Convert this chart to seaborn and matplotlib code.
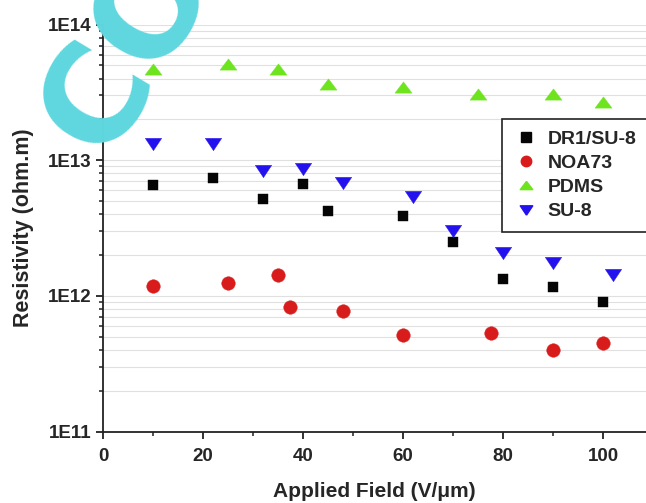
import numpy as np
import pandas as pd
import matplotlib
matplotlib.use("Agg")
import matplotlib.pyplot as plt
import seaborn as sns
from matplotlib.ticker import LogLocator, FixedLocator, FuncFormatter, NullFormatter
from matplotlib.lines import Line2D

# ---- data ----
dr1_x = [10, 22, 32, 40, 45, 60, 70, 80, 90, 100]
dr1_y = [6.6e12, 7.4e12, 5.2e12, 6.7e12, 4.2e12, 3.9e12, 2.5e12, 1.33e12, 1.17e12, 9.0e11]
noa_x = [10, 25, 35, 37.4, 48, 60, 77.5, 90, 100]
noa_y = [1.19e12, 1.24e12, 1.43e12, 8.3e11, 7.8e11, 5.2e11, 5.3e11, 4.0e11, 4.5e11]
pdms_x = [10, 25, 35, 45, 60, 75, 90, 100]
pdms_y = [4.7e13, 5.1e13, 4.7e13, 3.65e13, 3.45e13, 3.05e13, 3.05e13, 2.7e13]
su8_x = [10, 22, 32, 40, 48, 62, 70, 80, 90, 102]
su8_y = [1.31e13, 1.31e13, 8.3e12, 8.6e12, 6.8e12, 5.4e12, 3.0e12, 2.08e12, 1.76e12, 1.43e12]

series_names = ["DR1/SU-8", "NOA73", "PDMS", "SU-8"]
x_ticks = [0, 20, 40, 60, 80, 100]
y_ticks = [1e11, 1e12, 1e13, 1e14]

sns.set_theme(style="white")
plt.rcParams["font.family"] = ["Liberation Sans", "DejaVu Sans"]
plt.rcParams["font.weight"] = "bold"

fig = plt.figure(figsize=(6.46, 5.03), dpi=100)
ax = fig.add_axes([103 / 646, 1 - 431.7 / 503, 1 - 103 / 646, (431.7 - 24.5) / 503])

up_tri = [(0, 0.66), (-1, -0.66), (1, -0.66), (0, 0.66)]
down_tri = [(0, -0.75), (-1, 0.75), (1, 0.75), (0, -0.75)]

styles = {
    "DR1/SU-8": dict(marker="s", s=62, color="#050505"),
    "NOA73": dict(marker="o", s=95, color="#d81c1c"),
    "PDMS": dict(marker=up_tri, s=150, color="#6de41e"),
    "SU-8": dict(marker=down_tri, s=140, color="#2412ee"),
}
data = {
    "DR1/SU-8": (dr1_x, dr1_y),
    "NOA73": (noa_x, noa_y),
    "PDMS": (pdms_x, pdms_y),
    "SU-8": (su8_x, su8_y),
}

for name in series_names:
    xs, ys = data[name]
    df = pd.DataFrame({"x": xs, "y": ys})
    st = styles[name]
    sns.scatterplot(data=df, x="x", y="y", ax=ax, marker=st["marker"], s=st["s"],
                    color=st["color"], edgecolor=st["color"], linewidth=0.3,
                    zorder=3, legend=False)

ax.set_yscale("log")
ax.set_ylim(1e11, 1e14)
ax.set_xlim(0, 108.6)

ax.yaxis.set_major_locator(FixedLocator(y_ticks))
ax.yaxis.set_major_formatter(FuncFormatter(lambda v, p: f"1E{int(round(np.log10(v)))}"))
ax.yaxis.set_minor_locator(LogLocator(base=10, subs=np.arange(2, 10)))
ax.yaxis.set_minor_formatter(NullFormatter())
ax.xaxis.set_major_locator(FixedLocator(x_ticks))
ax.xaxis.set_minor_locator(FixedLocator([10, 30, 50, 70, 90]))

ax.grid(True, which="both", axis="y", color="#e0e0e0", lw=0.8)
ax.grid(False, axis="x", which="both")
ax.set_axisbelow(True)

for side in ["top", "right"]:
    ax.spines[side].set_visible(False)
for side in ["left", "bottom"]:
    ax.spines[side].set_color("#222222")
    ax.spines[side].set_linewidth(1.3)

ax.tick_params(axis="both", which="major", direction="out", length=5, width=1.3,
               color="#222222", labelsize=13.5, left=True, bottom=True)
ax.tick_params(axis="x", which="major", pad=7)
ax.tick_params(axis="y", which="major", pad=3)
ax.tick_params(axis="both", which="minor", direction="out", length=3, width=1.1,
               color="#222222", left=True, bottom=True)
for lab in ax.get_xticklabels() + ax.get_yticklabels():
    lab.set_fontweight("bold")

ax.set_xlabel("Applied Field (V/\u03bcm)", fontsize=15, fontweight="bold", labelpad=12)
ax.set_ylabel("Resistivity (ohm.m)", fontsize=15.5, fontweight="bold", labelpad=10)

handles = []
leg_sizes = {"DR1/SU-8": 6.5, "NOA73": 7.5, "PDMS": 9, "SU-8": 9}
for name in series_names:
    st = styles[name]
    handles.append(Line2D([], [], linestyle="none", marker=st["marker"],
                          markersize=leg_sizes[name], color=st["color"],
                          markeredgecolor=st["color"], label=name))
leg = ax.legend(handles=handles, loc="upper left",
                bbox_to_anchor=(501.7 / 646, 1 - 118.5 / 503), bbox_transform=fig.transFigure,
                borderaxespad=0, frameon=True, fancybox=False, framealpha=1,
                edgecolor="#222222", prop={"size": 14, "weight": "bold"},
                handlelength=1.25, handletextpad=0.52, labelspacing=0.34,
                borderpad=0.6)
leg.get_frame().set_linewidth(1.2)

# cyan watermark (partly outside the figure, as in the reference)
fig.text(105 / 646, 1 - 160 / 503, "COPY", rotation=59, rotation_mode="anchor",
         color="#5fd7df", fontsize=98, fontweight="bold", family="DejaVu Sans",
         ha="left", va="baseline", zorder=10)

fig.savefig("out.png", dpi=100)
